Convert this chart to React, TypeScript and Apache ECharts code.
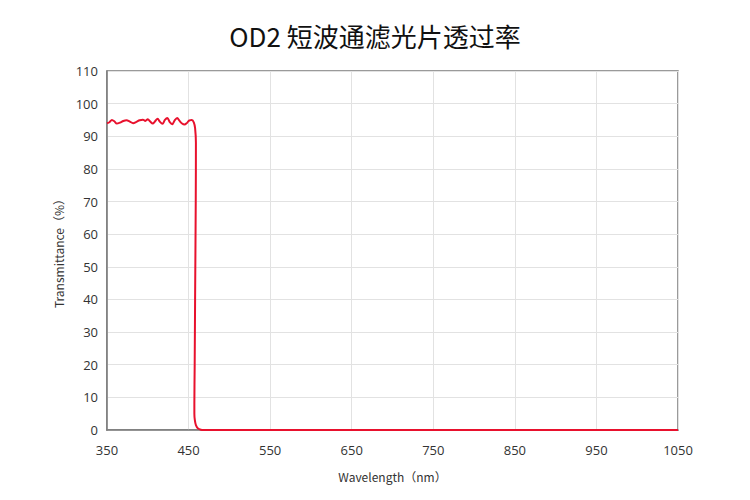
import React, { useEffect, useRef } from "react";
import * as echarts from "echarts";

const TITLE = "OD2 短波通滤光片透过率";
const X_NAME = "Wavelength（nm）";
const Y_NAME = "Transmittance（%）";

const wavelength: number[] = [
  350, 353, 356, 359, 362, 366, 370, 374, 378, 382, 386, 390, 394, 397, 400,
  403, 406, 409, 412, 415, 418, 421, 424, 427, 430, 433, 436, 439, 442, 445,
  448, 451, 454, 456.5, 458, 459, 458.8, 458, 457.5, 457.1, 457.1, 457.7,
  459, 461.5, 465, 468, 1050,
];
const transmittance: number[] = [
  94.0, 94.3, 95.0, 94.6, 93.9, 94.2, 94.7, 94.9, 94.5, 94.0, 94.4, 94.9, 95.1,
  94.7, 95.2, 94.5, 93.9, 94.6, 95.4, 94.4, 93.8, 95.0, 95.6, 94.3, 93.7, 94.9,
  95.6, 94.7, 93.9, 93.6, 94.1, 94.9, 95.0, 94.2, 92.5, 88.0, 70.0, 40.0, 20.0,
  8.0, 5.0, 3.0, 1.5, 0.5, 0.1, 0, 0,
];

export default function App() {
  const ref = useRef<HTMLDivElement>(null);
  useEffect(() => {
    if (!ref.current) return;
    const chart = echarts.init(ref.current, undefined, { renderer: "svg" });
    const data = wavelength.map((w, i) => [w, transmittance[i]]);
    chart.setOption({
      animation: false,
      backgroundColor: "#ffffff",
      title: {
        text: TITLE,
        left: "center",
        top: 17,
        textStyle: {
          fontFamily: "'Noto Sans CJK SC', 'Noto Sans', sans-serif",
          fontSize: 26,
          fontWeight: "normal",
          color: "#111",
        },
      },
      grid: {
        left: 107,
        right: 72,
        top: 71,
        bottom: 70,
        show: true,
        borderColor: "#7a7a7a",
        borderWidth: 1.5,
        backgroundColor: "transparent",
      },
      xAxis: {
        type: "value",
        min: 350,
        max: 1050,
        interval: 100,
        name: X_NAME,
        nameLocation: "middle",
        nameGap: 40,
        nameTextStyle: {
          fontFamily: "'Noto Sans CJK SC', 'Noto Sans', sans-serif",
          fontSize: 12,
          color: "#333",
        },
        axisLine: { show: true, lineStyle: { color: "#7a7a7a", width: 1.5 } },
        axisTick: { show: false },
        axisLabel: {
          color: "#333",
          fontSize: 13,
          margin: 13,
          formatter: (v: number) => String(v),
          fontFamily: "'Open Sans', 'Noto Sans', sans-serif",
        },
        splitLine: { show: true, lineStyle: { color: "#e2e2e2", width: 1 } },
      },
      yAxis: {
        type: "value",
        min: 0,
        max: 110,
        interval: 10,
        name: Y_NAME,
        nameLocation: "middle",
        nameGap: 41,
        nameRotate: 90,
        nameTextStyle: {
          fontFamily: "'Noto Sans CJK SC', 'Noto Sans', sans-serif",
          fontSize: 12,
          color: "#333",
        },
        axisLine: { show: true, lineStyle: { color: "#7a7a7a", width: 1.5 } },
        axisTick: { show: false },
        axisLabel: {
          color: "#333",
          fontSize: 13,
          margin: 9,
          fontFamily: "'Open Sans', 'Noto Sans', sans-serif",
        },
        splitLine: { show: true, lineStyle: { color: "#e2e2e2", width: 1 } },
      },
      series: [
        {
          type: "line",
          data,
          smooth: 0.3,
          showSymbol: false,
          symbol: "none",
          lineStyle: { color: "#e8112d", width: 2 },
        },
      ],
    });
    return () => chart.dispose();
  }, []);
  return (
    <div
      ref={ref}
      style={{ position: "fixed", left: 0, top: 0, width: 750, height: 500 }}
    />
  );
}
